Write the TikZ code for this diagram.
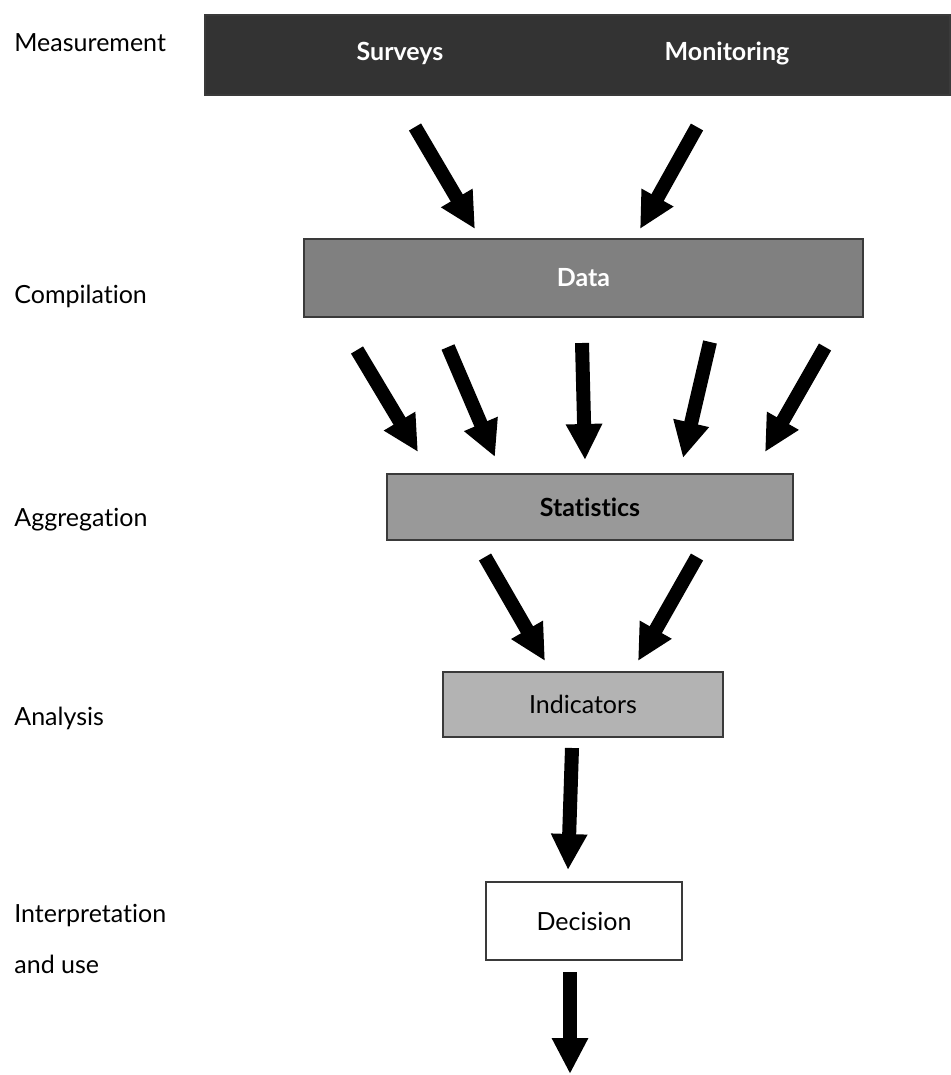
\documentclass[tikz,border=0pt]{standalone}
\usepackage{fontspec}
\setmainfont[Ligatures=NoCommon]{Lato}
\usepackage{tikz}
\usetikzlibrary{
  arrows.meta,
  positioning
}
\definecolor{darkbar}{HTML}{333333}
\definecolor{midgray}{HTML}{808080}
\definecolor{statgray}{HTML}{999999}
\definecolor{lightgray}{HTML}{B3B3B3}
\definecolor{edge}{HTML}{3A3A3A}
\tikzset{
  stage/.style={
    draw=edge,
    line width=0.6pt,
    align=center,
    inner sep=0pt,
    font=\fontsize{12.5}{15}\selectfont
  },
  measure/.style={stage, fill=darkbar, minimum width=372.5pt, minimum height=40pt},
  datab/.style={stage, fill=midgray, text=white, font=\fontsize{12.5}{15}\selectfont\bfseries,
    minimum width=279.5pt, minimum height=39pt},
  statb/.style={stage, fill=statgray, font=\fontsize{12.5}{15}\selectfont\bfseries,
    minimum width=203pt, minimum height=33pt},
  indb/.style={stage, fill=lightgray, minimum width=140pt, minimum height=32.5pt},
  decb/.style={stage, fill=white, minimum width=98pt, minimum height=39pt},
  source/.style={text=white, font=\fontsize{12.5}{15}\selectfont\bfseries},
  level/.style={anchor=west, align=left, inner sep=0pt,
    font=\fontsize{12.5}{25.5}\selectfont},
  fatarrow/.style={-{Triangle[length=18pt, width=17pt]}, line width=7pt, black}
}

\begin{document}
\begin{tikzpicture}[x=0.5pt, y=-0.5pt]
  \useasboundingbox (0,0) rectangle (950,1075);

  % stages
  \node[measure] (meas) at (577.5,55) {};
  \node[source] (surveys) at (400,53) {Surveys};
  \node[source] (monitor) at (727,53) {Monitoring};
  \node[datab] (data) at (583.5,278) {Data};
  \node[statb] (stats) at (590,507) {Statistics};
  \node[indb] (ind) at (583,704.5) {Indicators};
  \node[decb] (dec) at (584,921) {Decision};

  % levels on the left
  \node[level] (lmeas) at (14,43) {Measurement};
  \node[level] (lcomp) at (14,296) {Compilation};
  \node[level] (laggr) at (14,520) {Aggregation};
  \node[level] (lanal) at (14,718) {Analysis};
  \node[level, anchor=north west] (linter) at (14,904) {Interpretation\\and use};

  % arrow ends
  \coordinate (m1) at (415,127);  \coordinate (d1) at (475,229);
  \coordinate (m2) at (697,127);  \coordinate (d2) at (640,229);

  \coordinate (c1) at (357,350);  \coordinate (s1) at (418,452);
  \coordinate (c2) at (448,347);  \coordinate (s2) at (495,457);
  \coordinate (c3) at (582,343);  \coordinate (s3) at (585,460);
  \coordinate (c4) at (710,342);  \coordinate (s4) at (683,458);
  \coordinate (c5) at (825,347);  \coordinate (s5) at (765,452);

  \coordinate (a1) at (485,557);  \coordinate (i1) at (545,661);
  \coordinate (a2) at (697,557);  \coordinate (i2) at (638,661);

  \coordinate (n1) at (572,748);  \coordinate (e1) at (568,870);
  \coordinate (u1) at (570,972);  \coordinate (out) at (570,1074);

  \draw[fatarrow] (m1) -- (d1);
  \draw[fatarrow] (m2) -- (d2);
  \foreach \k in {1,...,5}
    \draw[fatarrow] (c\k) -- (s\k);
  \draw[fatarrow] (a1) -- (i1);
  \draw[fatarrow] (a2) -- (i2);
  \draw[fatarrow] (n1) -- (e1);
  \draw[fatarrow] (u1) -- (out);
\end{tikzpicture}
\end{document}
